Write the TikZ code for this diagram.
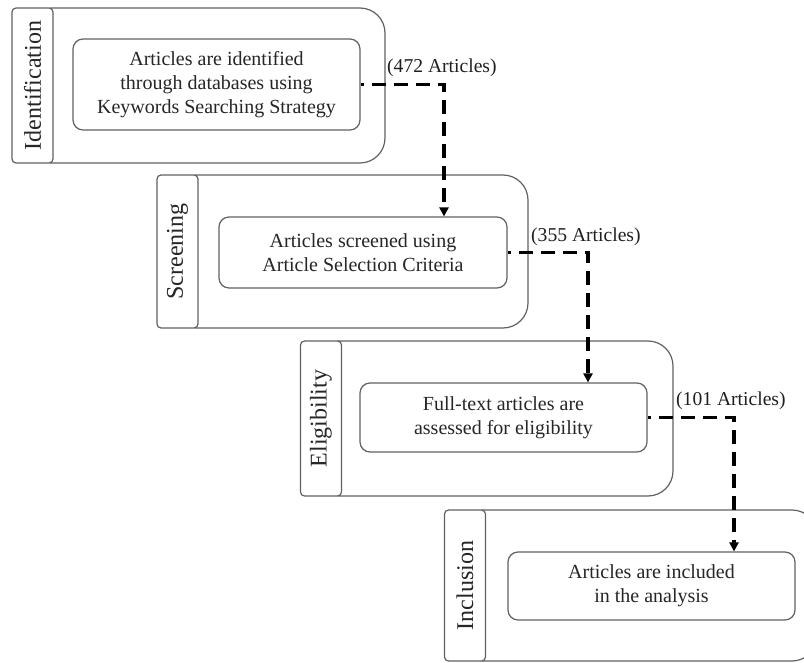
\documentclass[tikz,border=0pt]{standalone}
\usepackage{fontspec}
\setmainfont{Liberation Serif}
\usetikzlibrary{arrows.meta}
\begin{document}
\begin{tikzpicture}[x=1pt,y=-1pt,
  outl/.style={draw=black!62, line width=1.2pt},
  innerbox/.style={outl, rounded corners=10pt, text=black!85, font=\fontsize{20}{24}\selectfont, align=center, inner sep=0pt},
  tabbox/.style={outl, rounded corners=4pt, rotate=90, minimum width=155pt, minimum height=41pt, inner sep=0pt, text=black!85, font=\fontsize{24}{28}\selectfont},
  outerline/.style={outl, rounded corners=25pt},
  countlabel/.style={anchor=west, text=black!88, font=\fontsize{19.6}{22}\selectfont, inner sep=0pt},
  flow/.style={line width=3.4pt, dash pattern=on 14pt off 8pt, dash phase=11pt, -{Triangle[width=9pt,length=9pt]}}]
\fill[white] (0,0) rectangle (804,663);
\useasboundingbox (0,0) rectangle (804,663);
\clip (0,0) rectangle (804,663);

% Stage 1
\node[tabbox] (t1) at (32.5,85.5) {Identification};
\draw[outerline] (50,8) -- (385,8) -- (385,163) -- (50,163);
\node[innerbox, minimum width=287pt, minimum height=91pt] (i1) at (216.5,84.5)
  {Articles are identified\\through databases using\\Keywords Searching Strategy};

% Stage 2
\node[tabbox, minimum width=153pt] (t2) at (177.5,251.5) {Screening};
\draw[outerline] (195,175) -- (528,175) -- (528,328) -- (195,328);
\node[innerbox, minimum width=288pt, minimum height=71pt] (i2) at (363,252.5)
  {Articles screened using\\Article Selection Criteria};

% Stage 3
\node[tabbox] (t3) at (321,418.5) {Eligibility};
\draw[outerline] (338,341) -- (673,341) -- (673,496) -- (338,496);
\node[innerbox, minimum width=287pt, minimum height=69pt] (i3) at (503.5,417.5)
  {Full-text articles are\\assessed for eligibility};

% Stage 4
\node[tabbox, minimum width=151pt] (t4) at (465,585.5) {Inclusion};
\draw[outerline] (482,510) -- (817,510) -- (817,661) -- (482,661);
\node[innerbox, minimum width=287pt, minimum height=68pt] (i4) at (651.5,586)
  {Articles are included\\in the analysis};

% Connectors
\coordinate (k1) at (444,84);
\coordinate (k2) at (588,251);
\coordinate (k3) at (734,417);
\draw[flow] (i1.east) -| (k1 |- i2.north);
\draw[flow] (i2.east) -| (k2 |- i3.north);
\draw[flow] (i3.east) -| (k3 |- i4.north);

\node[countlabel] (c1) at (387,68) {(472 Articles)};
\node[countlabel] (c2) at (531,237) {(355 Articles)};
\node[countlabel] (c3) at (676,401) {(101 Articles)};
\end{tikzpicture}
\end{document}
